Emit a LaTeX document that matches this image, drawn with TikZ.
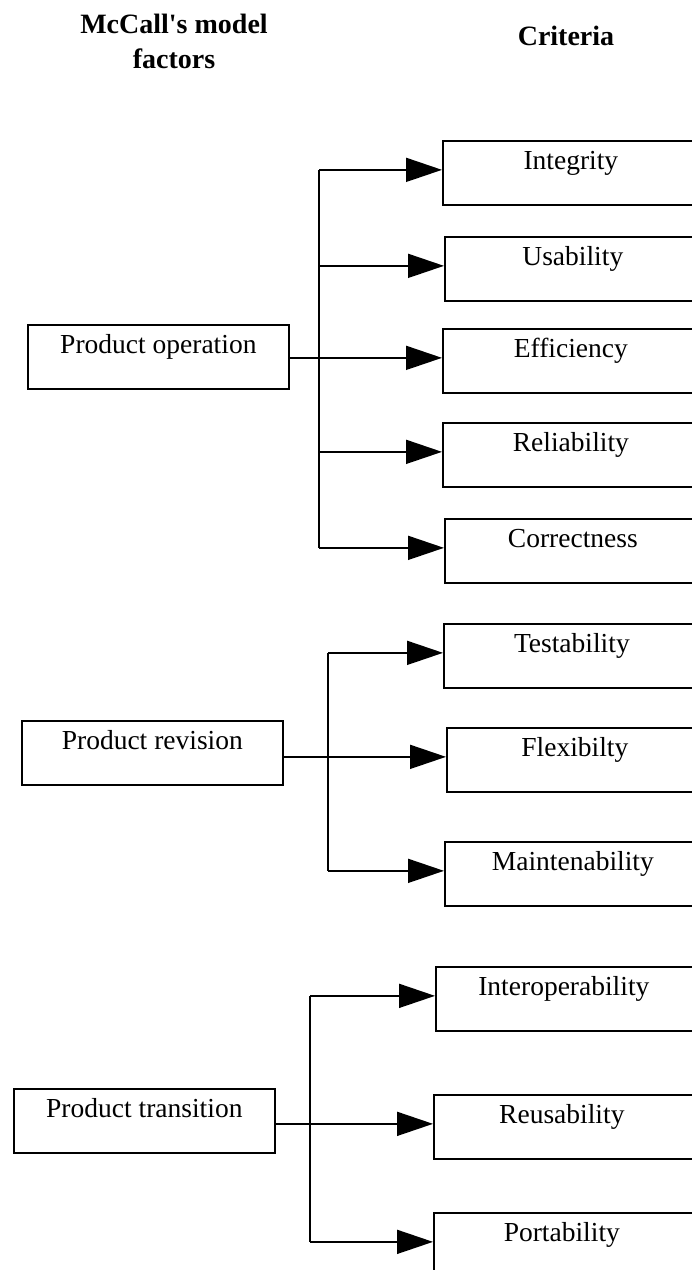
\documentclass[tikz,border=0pt]{standalone}
\usepackage{fontspec}
\setmainfont{Liberation Serif}
\usetikzlibrary{arrows.meta}
\tikzstyle{factor}=[draw, anchor=north west, minimum width=261pt, inner xsep=0pt, inner ysep=6pt, text height=23pt, text depth=29pt, font=\fontsize{27.5}{32}\selectfont]
\tikzstyle{crit}=[draw, anchor=north west, text width=300pt, align=left, inner xsep=0pt, inner ysep=6pt, text height=23pt, text depth=29pt, font=\fontsize{27.5}{32}\selectfont]
\tikzstyle{head}=[align=center, inner sep=0pt, font=\fontsize{28}{35}\selectfont\bfseries]
\tikzstyle{arr}=[-{Triangle[length=36pt, width=24pt]}]
\newcommand{\critlabel}[1]{\noindent\makebox[256pt]{#1}}

\begin{document}
\begin{tikzpicture}[x=1pt, y=-1pt, line width=1.7pt]
    \useasboundingbox (0,0) rectangle (692,1270);
    \clip (0,0) rectangle (692,1270);
% Headers
    \node[head, anchor=north] (hdfac) at (174,13) {McCall\textquotesingle s model\\factors};
    \node[head, anchor=base] (hdcrit) at (566,45) {Criteria};
% Factors
    \node[factor] (po) at (27,324) {Product operation};
    \node[factor] (pr) at (21,720) {Product revision};
    \node[factor] (pt) at (13,1088) {Product transition};
% Criteria of product operation
    \node[crit] (int) at (442,140) {\critlabel{Integrity}};
    \node[crit] (usa) at (444,236) {\critlabel{Usability}};
    \node[crit] (eff) at (442,328) {\critlabel{Efficiency}};
    \node[crit] (rel) at (442,422) {\critlabel{Reliability}};
    \node[crit] (cor) at (444,518) {\critlabel{Correctness}};
% Criteria of product revision
    \node[crit] (tes) at (443,623) {\critlabel{Testability}};
    \node[crit] (fle) at (446,727) {\critlabel{Flexibilty}};
    \node[crit] (mai) at (444,841) {\critlabel{Maintenability}};
% Criteria of product transition
    \node[crit] (ino) at (435,966) {\critlabel{Interoperability}};
    \node[crit] (reu) at (433,1094) {\critlabel{Reusability}};
    \node[crit] (por) at (433,1212) {\critlabel{Portability}};
% Trunks
    \coordinate (opbus) at (319,0);
    \coordinate (rvbus) at (328,0);
    \coordinate (trbus) at (310,0);
    \draw (opbus |- int.base west) -- (opbus |- cor.base west);
    \draw (rvbus |- tes.base west) -- (rvbus |- mai.base west);
    \draw (trbus |- ino.base west) -- (trbus |- por.base west);
% Arrows
    \draw[arr] (po.east |- eff.base west) -- (eff.base west);
    \draw[arr] (pr.east |- fle.base west) -- (fle.base west);
    \draw[arr] (pt.east |- reu.base west) -- (reu.base west);
    \foreach \c in {int,usa,rel,cor}
        \draw[arr] (opbus |- \c.base west) -- (\c.base west);
    \foreach \c in {tes,mai}
        \draw[arr] (rvbus |- \c.base west) -- (\c.base west);
    \foreach \c in {ino,por}
        \draw[arr] (trbus |- \c.base west) -- (\c.base west);
\end{tikzpicture}
\end{document}
